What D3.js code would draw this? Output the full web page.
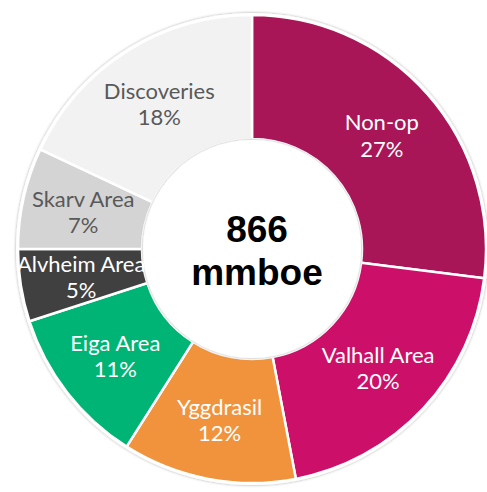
<!DOCTYPE html>
<html>
<head>
<meta charset="utf-8">
<script src="https://cdn.jsdelivr.net/npm/d3@7"></script>
<style>
  body { margin: 0; background: #fff; }
  svg { display: block; }
</style>
</head>
<body>
<svg id="chart" width="487" height="492"></svg>
<script>
// reserves split by area (share of total, %)
const areas = ["Non-op", "Valhall Area", "Yggdrasil", "Eiga Area", "Alvheim Area", "Skarv Area", "Discoveries"];
const shares = [27, 20, 12, 11, 5, 7, 18];
const colors = ["#a91657", "#cc0f69", "#f0933c", "#00b476", "#404040", "#d4d4d4", "#f2f2f2"];
const darkText = ["Skarv Area", "Discoveries"];
const totalLabel = ["866", "mmboe"];

const svg = d3.select("#chart");
const cx = 252, cy = 249;
const outerR = 234, innerR = 110;

// soft shadows around the ring and inside the hole
const defs = svg.append("defs");
const shadow = defs.append("filter").attr("id", "shadow")
  .attr("x", "-10%").attr("y", "-10%").attr("width", "120%").attr("height", "120%");
shadow.append("feDropShadow").attr("dx", 0).attr("dy", 0)
  .attr("stdDeviation", 1.5).attr("flood-color", "#000").attr("flood-opacity", 0.35);

const data = areas.map((name, i) => ({ name, value: shares[i], color: colors[i] }));

const pie = d3.pie().value(d => d.value).sort(null);
const arc = d3.arc().innerRadius(innerR).outerRadius(outerR);
const labelArc = d3.arc().innerRadius(173).outerRadius(173);

const g = svg.append("g").attr("transform", `translate(${cx},${cy})`);

// white ring behind slices with a faint outer shadow
g.append("circle")
  .attr("r", outerR + 2)
  .attr("fill", "#fff")
  .attr("filter", "url(#shadow)");

g.selectAll("path.slice")
  .data(pie(data))
  .join("path")
  .attr("class", "slice")
  .attr("d", arc)
  .attr("fill", d => d.data.color)
  .attr("stroke", "#fff")
  .attr("stroke-width", 2.5)
  .attr("stroke-linejoin", "round");

// centre hole
g.append("circle")
  .attr("r", innerR - 1)
  .attr("fill", "#fff")
  .attr("filter", "url(#shadow)");

// slice labels
const labels = g.selectAll("text.lbl")
  .data(pie(data))
  .join("text")
  .attr("class", "lbl")
  .attr("transform", d => {
    const [x, y] = labelArc.centroid(d);
    return `translate(${x},${y})`;
  })
  .attr("text-anchor", "middle")
  .style("font-family", "Lato, 'Open Sans', sans-serif")
  .style("font-size", "22px")
  .attr("fill", d => darkText.includes(d.data.name) ? "#595959" : "#fff");

labels.append("tspan").attr("x", 0).attr("dy", "-0.2em").text(d => d.data.name);
labels.append("tspan").attr("x", 0).attr("dy", "1.2em").text(d => d.data.value + "%");

// total in the middle
g.append("text")
  .attr("text-anchor", "middle")
  .style("font-family", "'Liberation Sans', Arial, sans-serif")
  .style("font-weight", "bold")
  .style("font-size", "37px")
  .attr("fill", "#000")
  .selectAll("tspan")
  .data(totalLabel)
  .join("tspan")
  .attr("x", 5)
  .attr("y", (d, i) => -7 + i * 43)
  .text(d => d);
</script>
</body>
</html>
